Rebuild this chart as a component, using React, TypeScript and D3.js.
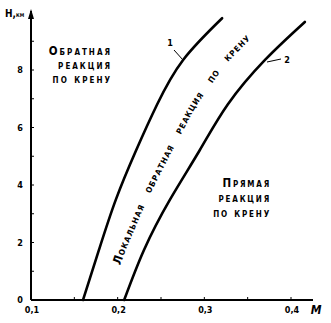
import React, { useEffect, useRef, useState } from "react";
import * as d3 from "d3";

// Curve 1: boundary between "обратная" and "локальная обратная" reaction
const heights1 = [0, 1.75, 3.5, 5.2, 6.8, 8.35, 9.8];
const curve1M = [0.16, 0.1785, 0.198, 0.2212, 0.2455, 0.2755, 0.3205];
// Curve 2: boundary between "локальная обратная" and "прямая" reaction
const heights2 = [0, 1.75, 3.5, 5.2, 6.8, 8.35, 9.67];
const curve2M = [0.2075, 0.2305, 0.2605, 0.2945, 0.327, 0.37, 0.416];

const yTicks = [0, 2, 4, 6, 8];
const yTickLabels = ["0", "2", "4", "6", "8"];
const xTicks = [0.1, 0.2, 0.3, 0.4];
const xTickLabels = ["0,1", "0,2", "0,3", "0,4"];

const leftLabel = ["Обратная", "реакция", "по крену"];
const rightLabel = ["Прямая", "реакция", "по крену"];
const bandWords = ["Локальная", "обратная", "реакция", "по", "крену"];

const FONT = "'DejaVu Sans Condensed', 'DejaVu Sans', sans-serif";

export default function App() {
  const x = d3.scaleLinear().domain([0.1, 0.4]).range([31, 291]);
  const y = d3.scaleLinear().domain([0, 8]).range([300, 70]);

  const line = d3
    .line<[number, number]>()
    .x((d) => x(d[0]))
    .y((d) => y(d[1]))
    .curve(d3.curveNatural);

  const c1 = curve1M.map((m, i) => [m, heights1[i]] as [number, number]);
  const c2 = curve2M.map((m, i) => [m, heights2[i]] as [number, number]);

  const i1 = d3.scaleLinear().domain(heights1).range(curve1M);
  const i2 = d3.scaleLinear().domain(heights2).range(curve2M);
  const mids: [number, number][] = d3
    .range(1.25, 9.45, 0.5)
    .map((h) => [(i1(h) + i2(h)) / 2, h]);
  const midPath = line(mids) || "";

  const pathRef = useRef<SVGPathElement>(null);
  const wordRefs = useRef<(SVGTextElement | null)[]>([]);
  const [layout, setLayout] = useState<{ offsets: number[]; ls: number } | null>(null);

  useEffect(() => {
    if (!pathRef.current) return;
    const len = pathRef.current.getTotalLength() - 2;
    const widths = wordRefs.current.map((el) => (el ? el.getComputedTextLength() : 30));
    const chars = bandWords.reduce((s, w) => s + w.length, 0);
    const spaceW = 13;
    const natural = d3.sum(widths) + spaceW * (bandWords.length - 1);
    const ls = Math.max(0, (len - natural) / chars);
    const offsets: number[] = [];
    let acc = 0;
    bandWords.forEach((w, i) => {
      offsets.push(acc);
      acc += widths[i] + ls * w.length + spaceW;
    });
    setLayout({ offsets, ls });
  }, []);

  const yMinor = d3.range(1, 10, 1);
  const xMinor = d3.range(0.15, 0.41, 0.05);

  const textStyle: React.CSSProperties = {
    fontFamily: FONT,
    fontWeight: "bold",
    fontVariant: "small-caps",
  };

  return (
    <svg
      width={331}
      height={323}
      style={{ position: "absolute", left: 0, top: 0, background: "#fff" }}
    >
      <defs>
        <path id="midline" ref={pathRef} d={midPath} fill="none" />
      </defs>
      {/* axes */}
      <line x1={x(0.1)} x2={x(0.1)} y1={y(0)} y2={11} stroke="#000" strokeWidth={2} />
      <path d={`M${x(0.1) - 3},${19} L${x(0.1)},${9} L${x(0.1) + 3},${19} Z`} fill="#000" />
      <line x1={x(0.1)} x2={313} y1={y(0)} y2={y(0)} stroke="#000" strokeWidth={2} />
      {yMinor.map((h) => (
        <line key={"ym" + h} x1={x(0.1)} x2={x(0.1) + 3} y1={y(h)} y2={y(h)} stroke="#000" strokeWidth={1} />
      ))}
      {xMinor.map((m) => (
        <line key={"xm" + m} x1={x(m)} x2={x(m)} y1={y(0)} y2={y(0) - 3} stroke="#000" strokeWidth={1} />
      ))}
      {yTicks.map((t, i) => (
        <text
          key={"yt" + t}
          x={20}
          y={y(t)}
          dy="0.35em"
          textAnchor="middle"
          fontSize={9}
          style={textStyle}
        >
          {yTickLabels[i]}
        </text>
      ))}
      {xTicks.map((t, i) => (
        <text
          key={"xt" + t}
          x={x(t) + 1}
          y={313}
          textAnchor="middle"
          fontSize={9}
          style={textStyle}
        >
          {xTickLabels[i]}
        </text>
      ))}
      <text x={316} y={314} textAnchor="middle" fontSize={12} fontStyle="italic" style={textStyle}>
        M
      </text>
      <text x={5} y={17} fontSize={10} style={textStyle}>
        H,<tspan fontSize={7}>км</tspan>
      </text>

      {/* curves */}
      <path d={line(c1) || ""} fill="none" stroke="#000" strokeWidth={2.6} strokeLinecap="round" />
      <path d={line(c2) || ""} fill="none" stroke="#000" strokeWidth={2.6} strokeLinecap="round" />

      {/* curve numbers */}
      <line x1={174} y1={50} x2={183} y2={60} stroke="#000" strokeWidth={1} />
      <text x={170} y={46} textAnchor="middle" fontSize={9} style={textStyle}>1</text>
      <line x1={267} y1={62} x2={281} y2={59} stroke="#000" strokeWidth={1} />
      <text x={287} y={63} textAnchor="middle" fontSize={9} style={textStyle}>2</text>

      {/* region labels */}
      {leftLabel.map((s, i) => (
        <text
          key={"l" + i}
          x={112}
          y={55 + i * 14}
          textAnchor="end"
          fontSize={11.5}
          letterSpacing={2}
          style={textStyle}
        >
          {s}
        </text>
      ))}
      {rightLabel.map((s, i) => (
        <text
          key={"r" + i}
          x={271}
          y={187 + i * 15}
          textAnchor="end"
          fontSize={11.5}
          letterSpacing={1.8}
          style={textStyle}
        >
          {s}
        </text>
      ))}
      {bandWords.map((w, i) => (
        <text
          key={"b" + i}
          ref={(el) => {
            wordRefs.current[i] = el;
          }}
          fontSize={12}
          dominantBaseline="central"
          letterSpacing={layout ? layout.ls : 0}
          style={textStyle}
          visibility={layout ? "visible" : "hidden"}
        >
          <textPath href="#midline" startOffset={layout ? layout.offsets[i] : 0}>
            {w}
          </textPath>
        </text>
      ))}
    </svg>
  );
}
